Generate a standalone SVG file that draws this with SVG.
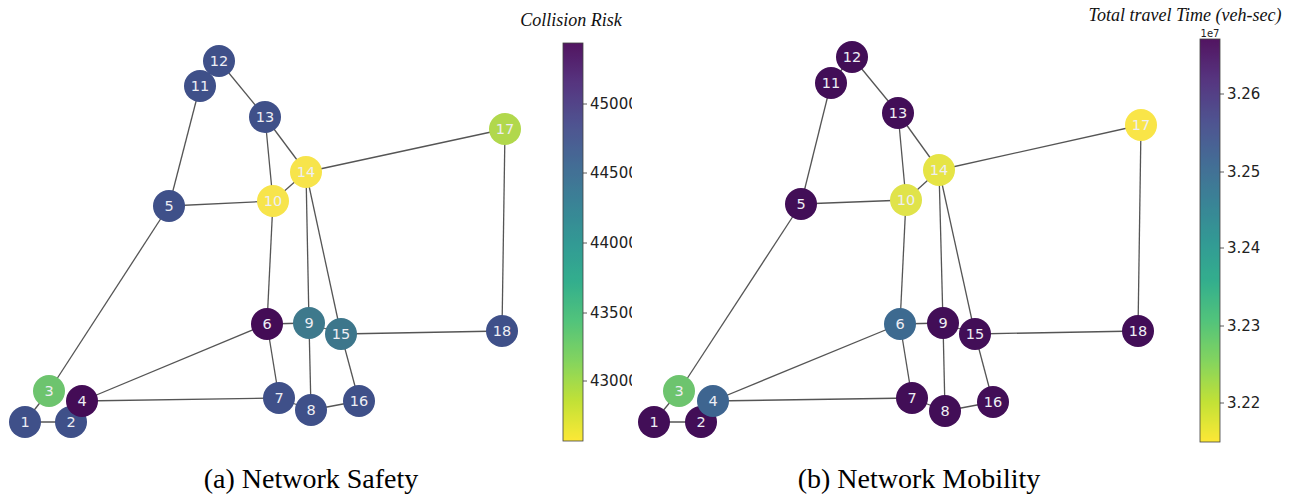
<svg xmlns="http://www.w3.org/2000/svg" width="1300" height="497" viewBox="0 0 1300 497">
  <defs>
    <linearGradient id="viridisR" x1="0" y1="1" x2="0" y2="0">
      <stop offset="0" stop-color="#fde725"/>
      <stop offset="0.1" stop-color="#bddf26"/>
      <stop offset="0.2" stop-color="#7ad151"/>
      <stop offset="0.3" stop-color="#44bf70"/>
      <stop offset="0.4" stop-color="#22a884"/>
      <stop offset="0.5" stop-color="#21918c"/>
      <stop offset="0.6" stop-color="#2a788e"/>
      <stop offset="0.7" stop-color="#355f8d"/>
      <stop offset="0.8" stop-color="#414487"/>
      <stop offset="0.9" stop-color="#482475"/>
      <stop offset="1" stop-color="#440154"/>
    </linearGradient>
    <clipPath id="leftPanel">
      <rect x="0" y="0" width="632" height="497"/>
    </clipPath>
  </defs>
  <style>
    .edge { stroke: #555; stroke-width: 1.3; fill: none; }
    .node circle { stroke: none; }
    .node text { font-family: "DejaVu Sans", sans-serif; font-size: 14.5px; fill: #eeeef4; text-anchor: middle; dominant-baseline: central; }
    .bar { stroke: #333; stroke-width: 0.8; fill: url(#viridisR); opacity: 0.92; }
    .tick { stroke: #333; stroke-width: 0.8; }
    .ticklabel { font-family: "DejaVu Sans", sans-serif; font-size: 15px; fill: #222; dominant-baseline: central; }
    .bartitle { font-family: "Liberation Serif", serif; font-style: italic; font-size: 18px; fill: #111; text-anchor: middle; }
    .caption { font-family: "Liberation Serif", serif; font-size: 28px; fill: #000; text-anchor: middle; }
  </style>
  <rect width="1300" height="497" fill="#ffffff"/>

  <!-- Panel (a): safety network -->
  <g id="connectors-a">
    <line class="edge" x1="25" y1="422" x2="71" y2="422"/>
    <line class="edge" x1="25" y1="422" x2="49" y2="391"/>
    <line class="edge" x1="49" y1="391" x2="169" y2="206"/>
    <line class="edge" x1="82" y1="401" x2="267" y2="324"/>
    <line class="edge" x1="82" y1="401" x2="279" y2="398"/>
    <line class="edge" x1="169" y1="206" x2="273" y2="201"/>
    <line class="edge" x1="169" y1="206" x2="200" y2="86"/>
    <line class="edge" x1="200" y1="86" x2="219" y2="61"/>
    <line class="edge" x1="219" y1="61" x2="265" y2="117"/>
    <line class="edge" x1="265" y1="117" x2="273" y2="201"/>
    <line class="edge" x1="265" y1="117" x2="306" y2="172"/>
    <line class="edge" x1="273" y1="201" x2="306" y2="172"/>
    <line class="edge" x1="273" y1="201" x2="267" y2="324"/>
    <line class="edge" x1="306" y1="172" x2="505" y2="129"/>
    <line class="edge" x1="505" y1="129" x2="502" y2="331"/>
    <line class="edge" x1="306" y1="172" x2="309" y2="323"/>
    <line class="edge" x1="306" y1="172" x2="341" y2="334"/>
    <line class="edge" x1="267" y1="324" x2="309" y2="323"/>
    <line class="edge" x1="267" y1="324" x2="279" y2="398"/>
    <line class="edge" x1="279" y1="398" x2="311" y2="410"/>
    <line class="edge" x1="309" y1="323" x2="311" y2="410"/>
    <line class="edge" x1="309" y1="323" x2="341" y2="334"/>
    <line class="edge" x1="341" y1="334" x2="502" y2="331"/>
    <line class="edge" x1="341" y1="334" x2="359" y2="401"/>
    <line class="edge" x1="311" y1="410" x2="359" y2="401"/>
  </g>

  <g id="a-node-1" class="node"><circle cx="25" cy="422" r="16" fill="#3f5089"/><text x="25" y="422">1</text></g>
  <g id="a-node-2" class="node"><circle cx="71" cy="422" r="16" fill="#3f5089"/><text x="71" y="422">2</text></g>
  <g id="a-node-3" class="node"><circle cx="49" cy="391" r="16" fill="#6dc46e"/><text x="49" y="391">3</text></g>
  <g id="a-node-4" class="node"><circle cx="82" cy="401" r="16" fill="#440c56"/><text x="82" y="401">4</text></g>
  <g id="a-node-5" class="node"><circle cx="169" cy="206" r="16" fill="#3f5089"/><text x="169" y="206">5</text></g>
  <g id="a-node-6" class="node"><circle cx="267" cy="324" r="16" fill="#440c56"/><text x="267" y="324">6</text></g>
  <g id="a-node-7" class="node"><circle cx="279" cy="398" r="16" fill="#3f5089"/><text x="279" y="398">7</text></g>
  <g id="a-node-8" class="node"><circle cx="311" cy="410" r="16" fill="#3f5089"/><text x="311" y="410">8</text></g>
  <g id="a-node-9" class="node"><circle cx="309" cy="323" r="16" fill="#3e798c"/><text x="309" y="323">9</text></g>
  <g id="a-node-10" class="node"><circle cx="273" cy="201" r="16" fill="#f7e44b"/><text x="273" y="201">10</text></g>
  <g id="a-node-12" class="node"><circle cx="219" cy="61" r="16" fill="#3f5089"/><text x="219" y="61">12</text></g>
  <g id="a-node-11" class="node"><circle cx="200" cy="86" r="16" fill="#3f5089"/><text x="200" y="86">11</text></g>
  <g id="a-node-13" class="node"><circle cx="265" cy="117" r="16" fill="#3f5089"/><text x="265" y="117">13</text></g>
  <g id="a-node-14" class="node"><circle cx="306" cy="172" r="16" fill="#f7e44b"/><text x="306" y="172">14</text></g>
  <g id="a-node-15" class="node"><circle cx="341" cy="334" r="16" fill="#3d768b"/><text x="341" y="334">15</text></g>
  <g id="a-node-16" class="node"><circle cx="359" cy="401" r="16" fill="#3f5089"/><text x="359" y="401">16</text></g>
  <g id="a-node-17" class="node"><circle cx="505" cy="129" r="16" fill="#b1d84c"/><text x="505" y="129">17</text></g>
  <g id="a-node-18" class="node"><circle cx="502" cy="331" r="16" fill="#3f5089"/><text x="502" y="331">18</text></g>

  <!-- Colour bar (a) -->
  <g id="colorbar-a" clip-path="url(#leftPanel)">
    <text class="bartitle" x="571" y="26">Collision Risk</text>
    <rect class="bar" x="563" y="43" width="20" height="398"/>
    <line class="tick" x1="583" y1="104" x2="587" y2="104"/>
    <line class="tick" x1="583" y1="173" x2="587" y2="173"/>
    <line class="tick" x1="583" y1="243" x2="587" y2="243"/>
    <line class="tick" x1="583" y1="313" x2="587" y2="313"/>
    <line class="tick" x1="583" y1="381" x2="587" y2="381"/>
    <text class="ticklabel" x="590" y="104">45000</text>
    <text class="ticklabel" x="590" y="173">44500</text>
    <text class="ticklabel" x="590" y="243">44000</text>
    <text class="ticklabel" x="590" y="313">43500</text>
    <text class="ticklabel" x="590" y="381">43000</text>
  </g>

  <!-- Panel (b): mobility network -->
  <g id="connectors-b">
    <line class="edge" x1="654" y1="422" x2="701" y2="422"/>
    <line class="edge" x1="654" y1="422" x2="679" y2="391"/>
    <line class="edge" x1="679" y1="391" x2="801" y2="204"/>
    <line class="edge" x1="713" y1="401" x2="900" y2="324"/>
    <line class="edge" x1="713" y1="401" x2="912" y2="398"/>
    <line class="edge" x1="801" y1="204" x2="906" y2="200"/>
    <line class="edge" x1="801" y1="204" x2="831" y2="83"/>
    <line class="edge" x1="831" y1="83" x2="852" y2="57"/>
    <line class="edge" x1="852" y1="57" x2="898" y2="113"/>
    <line class="edge" x1="898" y1="113" x2="906" y2="200"/>
    <line class="edge" x1="898" y1="113" x2="939" y2="170"/>
    <line class="edge" x1="906" y1="200" x2="939" y2="170"/>
    <line class="edge" x1="906" y1="200" x2="900" y2="324"/>
    <line class="edge" x1="939" y1="170" x2="1141" y2="125"/>
    <line class="edge" x1="1141" y1="125" x2="1138" y2="331"/>
    <line class="edge" x1="939" y1="170" x2="943" y2="323"/>
    <line class="edge" x1="939" y1="170" x2="975" y2="334"/>
    <line class="edge" x1="900" y1="324" x2="943" y2="323"/>
    <line class="edge" x1="900" y1="324" x2="912" y2="398"/>
    <line class="edge" x1="912" y1="398" x2="945" y2="411"/>
    <line class="edge" x1="943" y1="323" x2="945" y2="411"/>
    <line class="edge" x1="943" y1="323" x2="975" y2="334"/>
    <line class="edge" x1="975" y1="334" x2="1138" y2="331"/>
    <line class="edge" x1="975" y1="334" x2="993" y2="402"/>
    <line class="edge" x1="945" y1="411" x2="993" y2="402"/>
  </g>

  <g id="b-node-1" class="node"><circle cx="654" cy="422" r="16" fill="#420e57"/><text x="654" y="422">1</text></g>
  <g id="b-node-2" class="node"><circle cx="701" cy="422" r="16" fill="#420e57"/><text x="701" y="422">2</text></g>
  <g id="b-node-3" class="node"><circle cx="679" cy="391" r="16" fill="#6dc46e"/><text x="679" y="391">3</text></g>
  <g id="b-node-4" class="node"><circle cx="713" cy="401" r="16" fill="#3e6590"/><text x="713" y="401">4</text></g>
  <g id="b-node-5" class="node"><circle cx="801" cy="204" r="16" fill="#420e57"/><text x="801" y="204">5</text></g>
  <g id="b-node-6" class="node"><circle cx="900" cy="324" r="16" fill="#3d6a90"/><text x="900" y="324">6</text></g>
  <g id="b-node-7" class="node"><circle cx="912" cy="398" r="16" fill="#420e57"/><text x="912" y="398">7</text></g>
  <g id="b-node-8" class="node"><circle cx="945" cy="411" r="16" fill="#420e57"/><text x="945" y="411">8</text></g>
  <g id="b-node-9" class="node"><circle cx="943" cy="323" r="16" fill="#420e57"/><text x="943" y="323">9</text></g>
  <g id="b-node-10" class="node"><circle cx="906" cy="200" r="16" fill="#e0e34a"/><text x="906" y="200">10</text></g>
  <g id="b-node-12" class="node"><circle cx="852" cy="57" r="16" fill="#420e57"/><text x="852" y="57">12</text></g>
  <g id="b-node-11" class="node"><circle cx="831" cy="83" r="16" fill="#420e57"/><text x="831" y="83">11</text></g>
  <g id="b-node-13" class="node"><circle cx="898" cy="113" r="16" fill="#420e57"/><text x="898" y="113">13</text></g>
  <g id="b-node-14" class="node"><circle cx="939" cy="170" r="16" fill="#e6e445"/><text x="939" y="170">14</text></g>
  <g id="b-node-15" class="node"><circle cx="975" cy="334" r="16" fill="#420e57"/><text x="975" y="334">15</text></g>
  <g id="b-node-16" class="node"><circle cx="993" cy="402" r="16" fill="#420e57"/><text x="993" y="402">16</text></g>
  <g id="b-node-17" class="node"><circle cx="1141" cy="125" r="16" fill="#f9e548"/><text x="1141" y="125">17</text></g>
  <g id="b-node-18" class="node"><circle cx="1138" cy="331" r="16" fill="#420e57"/><text x="1138" y="331">18</text></g>

  <!-- Colour bar (b) -->
  <g id="colorbar-b">
    <text class="bartitle" x="1185" y="21">Total travel Time (veh-sec)</text>
    <text x="1210" y="37" font-family="DejaVu Sans, sans-serif" font-size="10" fill="#222" text-anchor="middle">1e7</text>
    <rect class="bar" x="1200" y="39" width="20" height="403"/>
    <line class="tick" x1="1220" y1="94" x2="1224" y2="94"/>
    <line class="tick" x1="1220" y1="172" x2="1224" y2="172"/>
    <line class="tick" x1="1220" y1="248" x2="1224" y2="248"/>
    <line class="tick" x1="1220" y1="326" x2="1224" y2="326"/>
    <line class="tick" x1="1220" y1="403" x2="1224" y2="403"/>
    <text class="ticklabel" x="1227" y="94">3.26</text>
    <text class="ticklabel" x="1227" y="172">3.25</text>
    <text class="ticklabel" x="1227" y="248">3.24</text>
    <text class="ticklabel" x="1227" y="326">3.23</text>
    <text class="ticklabel" x="1227" y="403">3.22</text>
  </g>

  <!-- Sub-figure captions -->
  <text class="caption" x="311" y="488">(a) Network Safety</text>
  <text class="caption" x="919" y="488">(b) Network Mobility</text>
</svg>
